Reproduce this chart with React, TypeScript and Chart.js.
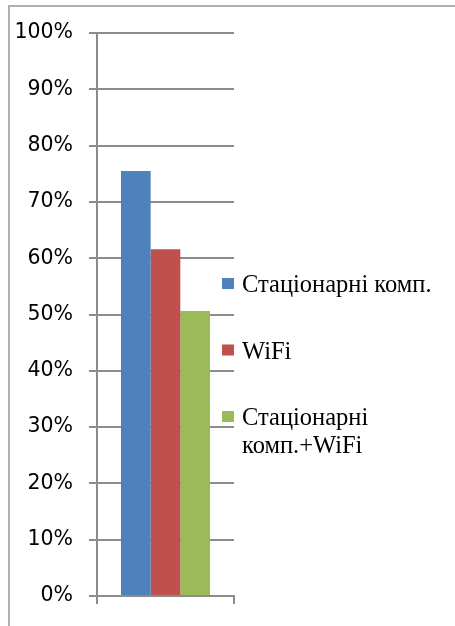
import React, { useEffect, useRef } from "react";
import { Chart, registerables } from "chart.js";

Chart.register(...registerables);

const categories = [""];
const seriesNames = ["Стаціонарні комп.", "WiFi", "Стаціонарні\nкомп.+WiFi"];
const seriesValues = [[75.5], [61.6], [50.6]];
const seriesColors = ["#4F81BD", "#C0504D", "#9BBB59"];

const legendPlugin = {
  id: "sideLegend",
  afterDraw(chart: any) {
    const ctx = chart.ctx;
    const area = chart.chartArea;
    ctx.save();
    ctx.font = '24.5px "Liberation Serif"';
    ctx.fillStyle = "#000000";
    ctx.textBaseline = "alphabetic";
    ctx.textAlign = "left";
    chart.data.datasets.forEach((ds: any, i: number) => {
      const boxX = area.right - 12;
      const boxY = 278 + i * 66.5;
      ctx.fillStyle = ds.backgroundColor;
      ctx.fillRect(boxX, boxY, 12, 11);
      ctx.fillStyle = "#000000";
      const lines = String(ds.label).split("\n");
      lines.forEach((ln: string, j: number) => {
        ctx.fillText(ln, boxX + 20, boxY + 14 + j * 28);
      });
    });
    ctx.restore();
  },
};

export default function App() {
  const ref = useRef<HTMLCanvasElement | null>(null);
  useEffect(() => {
    document.body.style.margin = "0";
    const chart = new Chart(ref.current as HTMLCanvasElement, {
      type: "bar",
      data: {
        labels: categories,
        datasets: seriesNames.map((n, i) => ({
          label: n,
          data: seriesValues[i],
          backgroundColor: seriesColors[i],
          borderWidth: 0,
          categoryPercentage: 0.65,
          barPercentage: 1,
        })),
      },
      options: {
        animation: false,
        responsive: false,
        maintainAspectRatio: false,
        layout: { padding: { left: 0, top: 33, right: 221, bottom: 20 } },
        plugins: { legend: { display: false }, tooltip: { enabled: false } },
        scales: {
          x: {
            ticks: { display: false },
            grid: {
              offset: true,
              drawOnChartArea: false,
              drawTicks: true,
              tickLength: 8,
              color: "#8C8C8C",
              lineWidth: 2,
            },
            border: { display: true, color: "#8C8C8C", width: 2 },
            afterFit: (s: any) => {
              s.height = 10;
            },
          },
          y: {
            min: 0,
            max: 100,
            ticks: {
              stepSize: 10,
              padding: 16,
              color: "#000000",
              font: { family: "DejaVu Sans", size: 20.5 },
              callback: (v: any) => v + "%",
            },
            grid: { color: "#8C8C8C", lineWidth: 2, tickLength: 8 },
            border: { display: true, color: "#8C8C8C", width: 2 },
            afterFit: (s: any) => {
              s.width = 97;
            },
          },
        },
      },
      plugins: [legendPlugin],
    });
    return () => chart.destroy();
  }, []);
  return (
    <div style={{ position: "relative", width: 455, height: 626, overflow: "hidden", background: "#fff" }}>
      <canvas ref={ref} width={455} height={626} style={{ display: "block" }} />
      <div
        style={{
          position: "absolute",
          left: 8,
          top: 5,
          width: 460,
          height: 640,
          borderLeft: "2px solid #B0B0B0",
          borderTop: "2px solid #B0B0B0",
          pointerEvents: "none",
        }}
      />
    </div>
  );
}
